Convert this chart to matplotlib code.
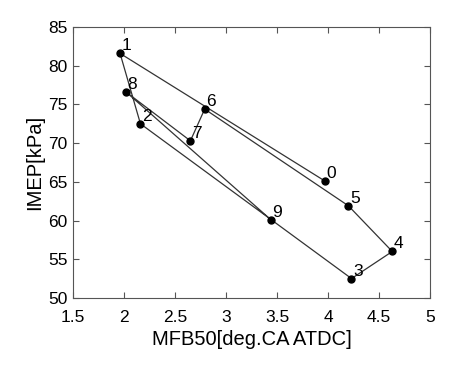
import numpy as np
import matplotlib.pyplot as plt

# MFB50 vs IMEP, cycle order 0..9
labels = ['0', '1', '2', '3', '4', '5', '6', '7', '8', '9']
mfb50 = [3.97, 1.96, 2.16, 4.23, 4.63, 4.20, 2.79, 2.65, 2.02, 3.44]
imep = [65.1, 81.6, 72.5, 52.5, 56.0, 61.9, 74.4, 70.3, 76.6, 60.1]

plt.rcParams['font.family'] = ['Liberation Sans', 'DejaVu Sans']

fig = plt.figure(figsize=(4.72, 3.71), dpi=100)
ax = fig.add_axes([0.155, 0.197, 0.756, 0.730])

ax.plot(mfb50, imep, color='#333333', lw=0.9, marker='o', ms=5,
        mfc='black', mec='black')
for lab, x, y in zip(labels, mfb50, imep):
    ax.annotate(lab, (x, y), xytext=(1, 0), textcoords='offset points',
                fontsize=12.5, ha='left', va='bottom')

ax.set_xlim(1.5, 5)
ax.set_ylim(50, 85)
ax.set_xticks(np.arange(1.5, 5.01, 0.5))
ax.set_xticklabels(['1.5', '2', '2.5', '3', '3.5', '4', '4.5', '5'])
ax.set_yticks(np.arange(50, 86, 5))
ax.tick_params(direction='in', top=True, right=True, labelsize=12.5,
               color='#555555', length=4)
ax.tick_params(axis='x', pad=9)
ax.tick_params(axis='y', pad=4)
for s in ax.spines.values():
    s.set_color('#555555')
    s.set_linewidth(0.8)

ax.set_xlabel('MFB50[deg.CA ATDC]', fontsize=14.5, labelpad=3)
ax.set_ylabel('IMEP[kPa]', fontsize=14.5, labelpad=3)

plt.savefig('out.png', dpi=100)
